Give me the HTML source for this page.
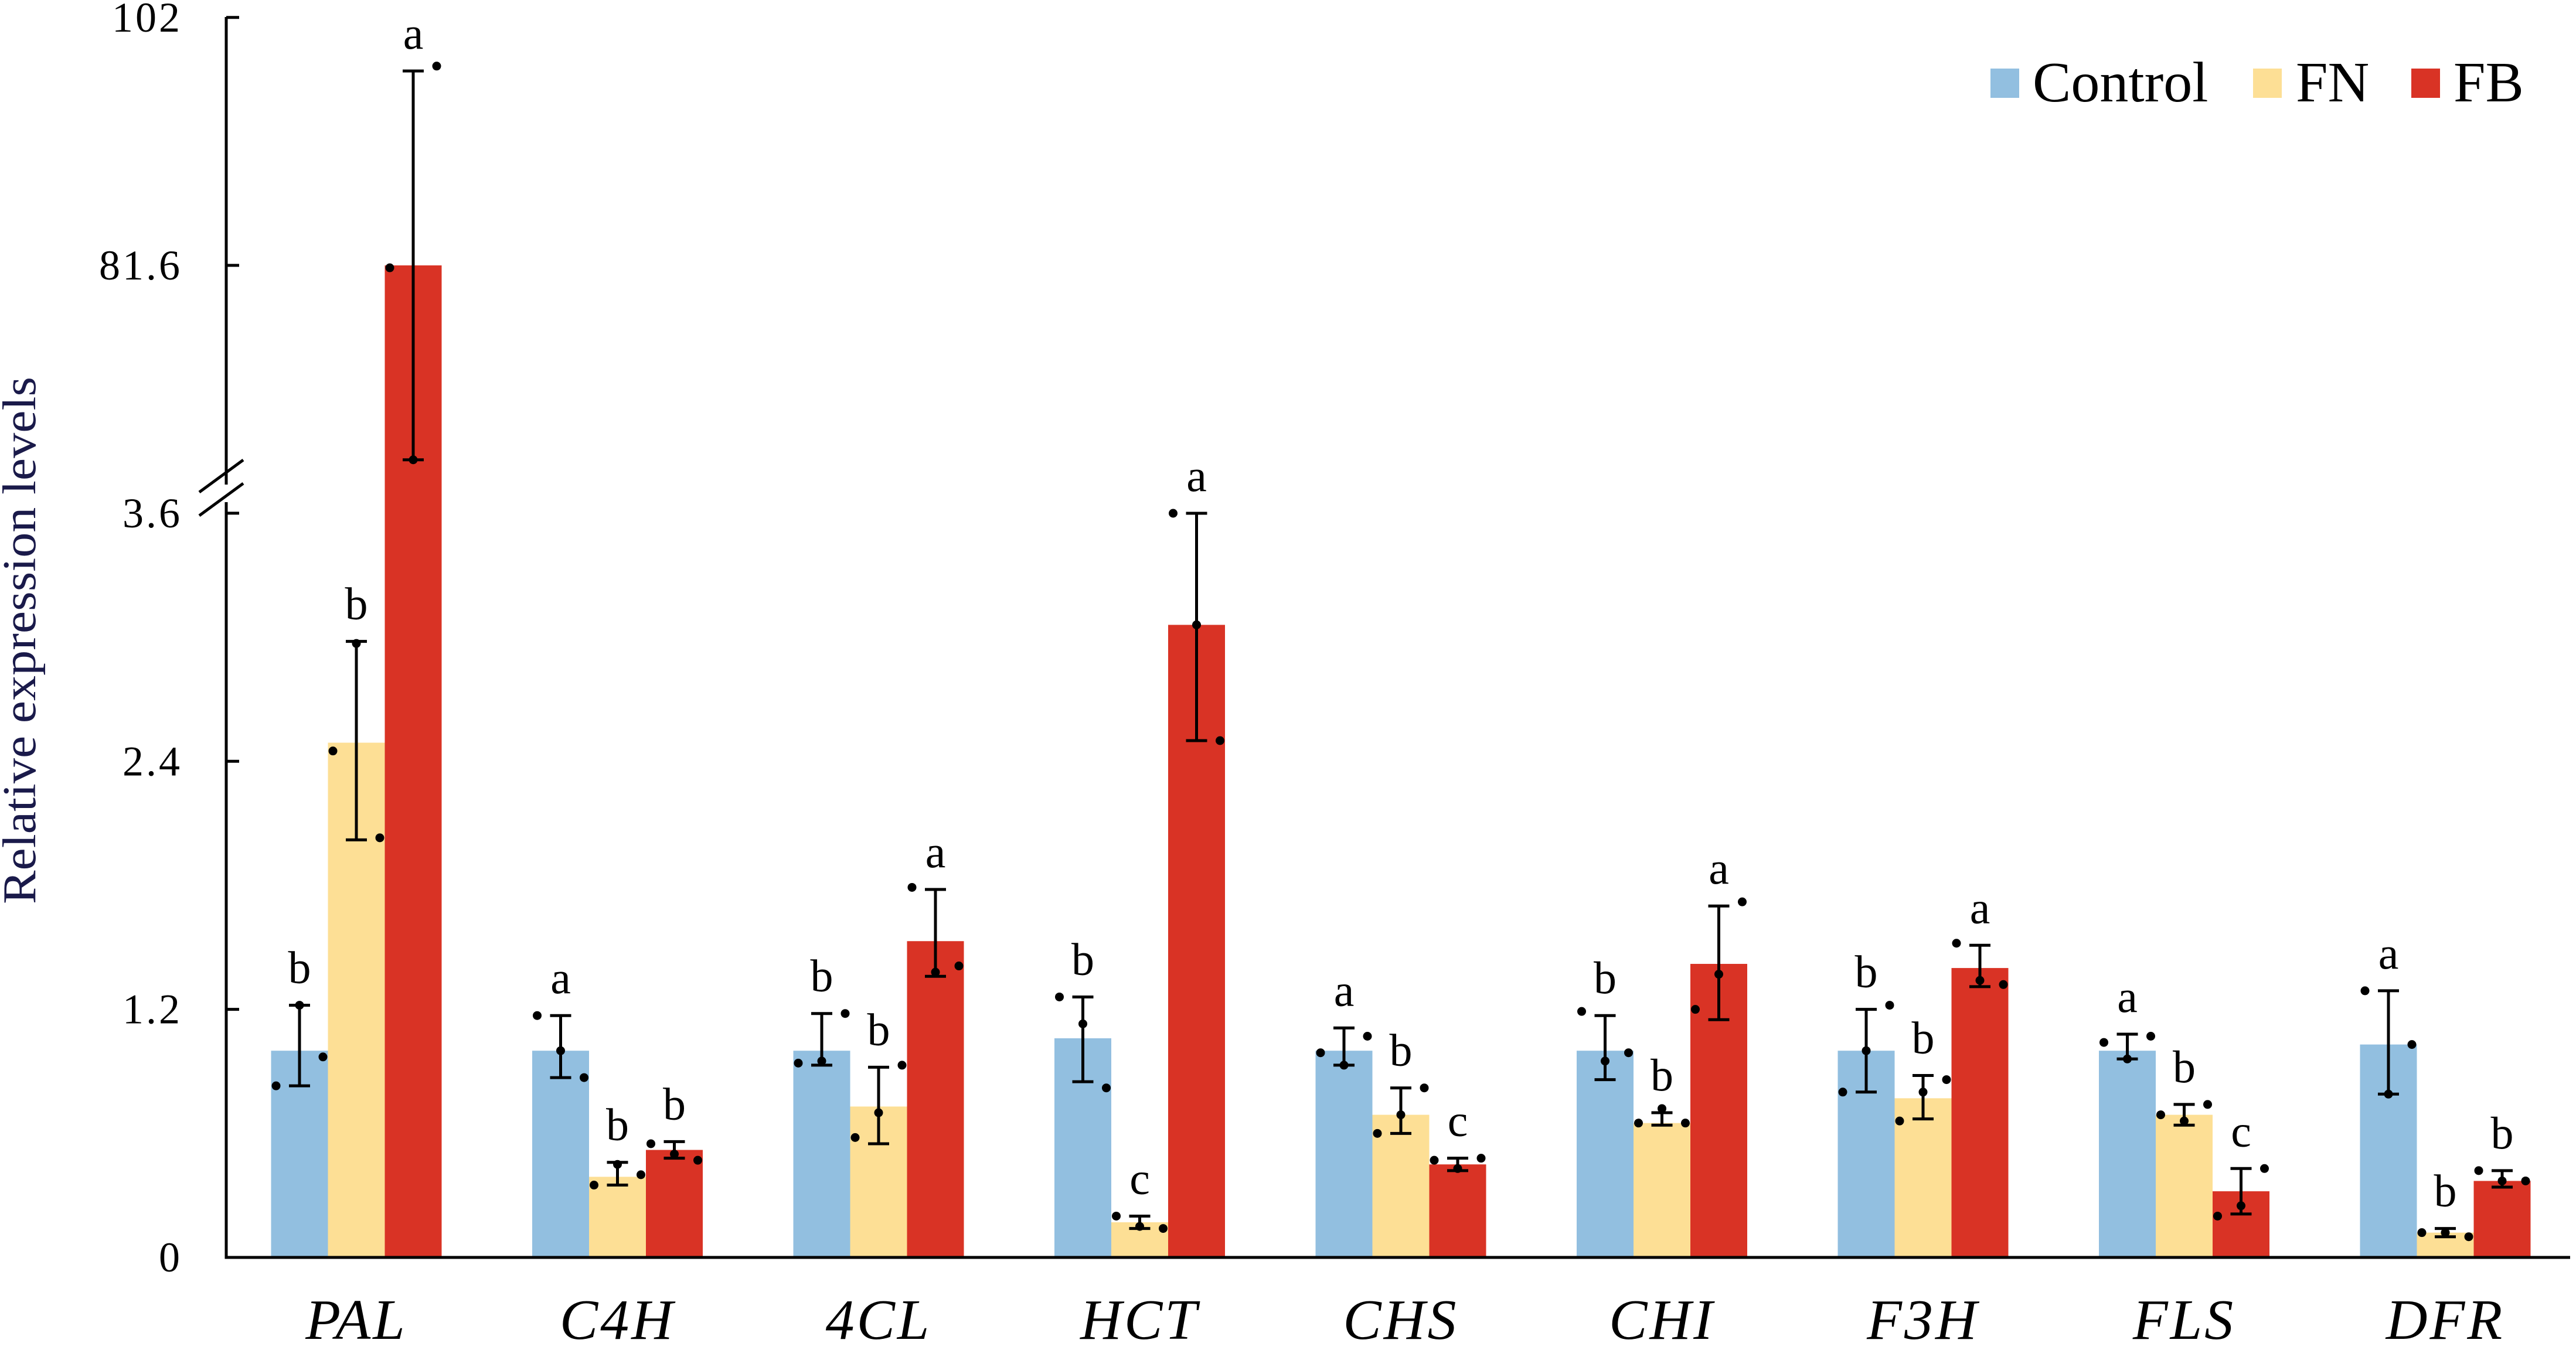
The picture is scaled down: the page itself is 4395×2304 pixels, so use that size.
<!DOCTYPE html>
<html><head><meta charset="utf-8"><style>
html,body{margin:0;padding:0;background:#fff;}
svg, svg text{font-family:"Liberation Serif","Times New Roman",serif;}
</style></head><body>
<svg id="chart" width="4395" height="2299" viewBox="0 0 4395 2299" xmlns="http://www.w3.org/2000/svg" font-family="Liberation Serif, serif">
<g id="bars"></g>
<g id="axes"></g>
<g id="legend">
  <rect x="3396" y="117" width="49" height="50" fill="#92bfe0"/>
  <text x="3468" y="173" font-size="98" font-family="Liberation Serif, serif">Control</text>
  <rect x="3844" y="117" width="49" height="50" fill="#fddf95"/>
  <text x="3917" y="173" font-size="98" font-family="Liberation Serif, serif">FN</text>
  <rect x="4114" y="117" width="49" height="50" fill="#d93325"/>
  <text x="4186" y="173" font-size="98" font-family="Liberation Serif, serif">FB</text>
</g>
<text x="0" y="0" transform="translate(60,1093) rotate(-90)" text-anchor="middle" font-size="80" font-family="Liberation Serif, serif" fill="#1a1a4a" textLength="900" lengthAdjust="spacingAndGlyphs">Relative expression levels</text>
</svg>
<script>
const categories = ["PAL","C4H","4CL","HCT","CHS","CHI","F3H","FLS","DFR"];
const seriesNames = ["Control","FN","FB"];
const controlMean = [1.0,1.0,1.0,1.06,1.0,1.0,1.0,1.0,1.03];
const fnMean = [2.49,0.39,0.73,0.17,0.69,0.65,0.77,0.69,0.12];
const fbMean = [81.6,0.52,1.53,3.06,0.45,1.42,1.40,0.32,0.37];
const controlErr = [[0.83,1.22],[0.87,1.17],[0.93,1.18],[0.85,1.26],[0.93,1.11],[0.86,1.17],[0.80,1.20],[0.96,1.08],[0.79,1.29]];
const fnErr = [[2.02,2.98],[0.35,0.46],[0.55,0.92],[0.14,0.20],[0.60,0.82],[0.64,0.70],[0.67,0.88],[0.64,0.74],[0.10,0.14]];
const fbErr = [[65.6,97.6],[0.48,0.56],[1.36,1.78],[2.50,3.62],[0.42,0.48],[1.15,1.70],[1.31,1.51],[0.21,0.43],[0.34,0.42]];
const controlPts = [[0.83,1.22,0.97],[1.17,1.0,0.87],[0.94,0.95,1.18],[1.26,1.13,0.82],[0.99,0.93,1.07],[1.19,0.95,0.99],[0.80,1.0,1.22],[1.04,0.96,1.07],[1.29,0.79,1.03]];
const fnPts = [[2.45,2.97,2.03],[0.35,0.45,0.40],[0.58,0.70,0.93],[0.20,0.15,0.14],[0.60,0.69,0.82],[0.65,0.72,0.65],[0.66,0.80,0.86],[0.69,0.66,0.74],[0.12,0.12,0.10]];
const fbPts = [[81.4,65.6,98.0],[0.55,0.50,0.47],[1.79,1.38,1.41],[3.64,3.06,2.50],[0.47,0.43,0.48],[1.20,1.37,1.72],[1.52,1.34,1.32],[0.20,0.25,0.43],[0.42,0.37,0.37]];
const controlLetters = ["b","a","b","b","a","b","b","a","a"];
const fnLetters = ["b","b","b","c","b","b","b","b","b"];
const fbLetters = ["a","b","a","a","c","a","a","c","b"];
const tickValues = [0,1.2,2.4,3.6,81.6,102];
const tickLabels = ["0","1.2","2.4","3.6","81.6","102"];

const NS="http://www.w3.org/2000/svg";
const FONT="Liberation Serif, serif";
const X0=386, Y0=2146, LOW_PX=352.8, BREAK_Y=876, UP_BASE=61.2, UP_PX=20.74;
function yScale(v){
  if(v<=3.6) return Y0 - v*LOW_PX;
  if(v>=UP_BASE) return BREAK_Y - (v-UP_BASE)*UP_PX;
  return BREAK_Y;
}
const GROUP0=608, GROUP_STEP=445.5, BW=97;
function xCenter(i){return GROUP0 + i*GROUP_STEP;}
function mk(tag,attrs,parent){const e=document.createElementNS(NS,tag);for(const k in attrs)e.setAttribute(k,attrs[k]);parent.appendChild(e);return e;}

const bars=document.getElementById('bars');
const axes=document.getElementById('axes');
const colors=["#92bfe0","#fddf95","#d93325"];
const means=[controlMean,fnMean,fbMean];
const errs=[controlErr,fnErr,fbErr];
const pts=[controlPts,fnPts,fbPts];
const letters=[controlLetters,fnLetters,fbLetters];
const keys=["control","fn","fb"];

categories.forEach((cat,i)=>{
  for(let s=0;s<3;s++){
    const cx=xCenter(i)+(s-1)*BW;
    const top=yScale(means[s][i]);
    const r=mk('rect',{x:cx-BW/2,y:top,width:BW,height:Y0-top,fill:colors[s]},bars);
    
    
  }
});
categories.forEach((cat,i)=>{
  for(let s=0;s<3;s++){
    const cx=xCenter(i)+(s-1)*BW;
    const lo=yScale(errs[s][i][0]), hi=yScale(errs[s][i][1]);
    const g=mk('g',{stroke:'#000','stroke-width':5},bars);
    
    
    mk('line',{x1:cx,y1:lo,x2:cx,y2:hi},g);
    mk('line',{x1:cx-18,y1:lo,x2:cx+18,y2:lo},g);
    mk('line',{x1:cx-18,y1:hi,x2:cx+18,y2:hi},g);
    const offs=[-40,0,40];
    pts[s][i].forEach((v,k)=>{
      const c=mk('circle',{cx:cx+offs[k],cy:yScale(v),r:7.5,fill:'#000'},bars);
      
      
    });
    const topv=errs[s][i][1];
    const t=mk('text',{x:cx,y:yScale(topv)-38,'text-anchor':'middle','font-size':78,'font-family':FONT},bars);
    t.textContent=letters[s][i];
    
    
  }
  const lab=mk('text',{x:xCenter(i),y:2285,'text-anchor':'middle','font-size':98,'font-style':'italic','letter-spacing':4,'font-family':FONT},axes);
  lab.textContent=cat;
  
  
});
const ya=mk('line',{x1:X0,y1:29,x2:X0,y2:Y0+2.5,stroke:'#000','stroke-width':5},axes);


const xa=mk('line',{x1:X0-2.5,y1:Y0,x2:4385,y2:Y0,stroke:'#000','stroke-width':5},axes);


tickValues.forEach((v,k)=>{
  const y=yScale(v);
  const tk=mk('line',{x1:X0,y1:y,x2:X0+22,y2:y,stroke:'#000','stroke-width':5},axes);
  
  
  const tl=mk('text',{x:311,y:y+24,'text-anchor':'end','font-size':72,'letter-spacing':4,'font-family':FONT},axes);
  tl.textContent=tickLabels[k];
  
  
});
const br=mk('g',{},axes);


mk('rect',{x:X0-6,y:827,width:12,height:30,fill:'#fff'},br);
mk('line',{x1:340,y1:840,x2:415,y2:785,stroke:'#000','stroke-width':5},br);
mk('line',{x1:340,y1:880,x2:415,y2:825,stroke:'#000','stroke-width':5},br);
</script>
</body></html>
